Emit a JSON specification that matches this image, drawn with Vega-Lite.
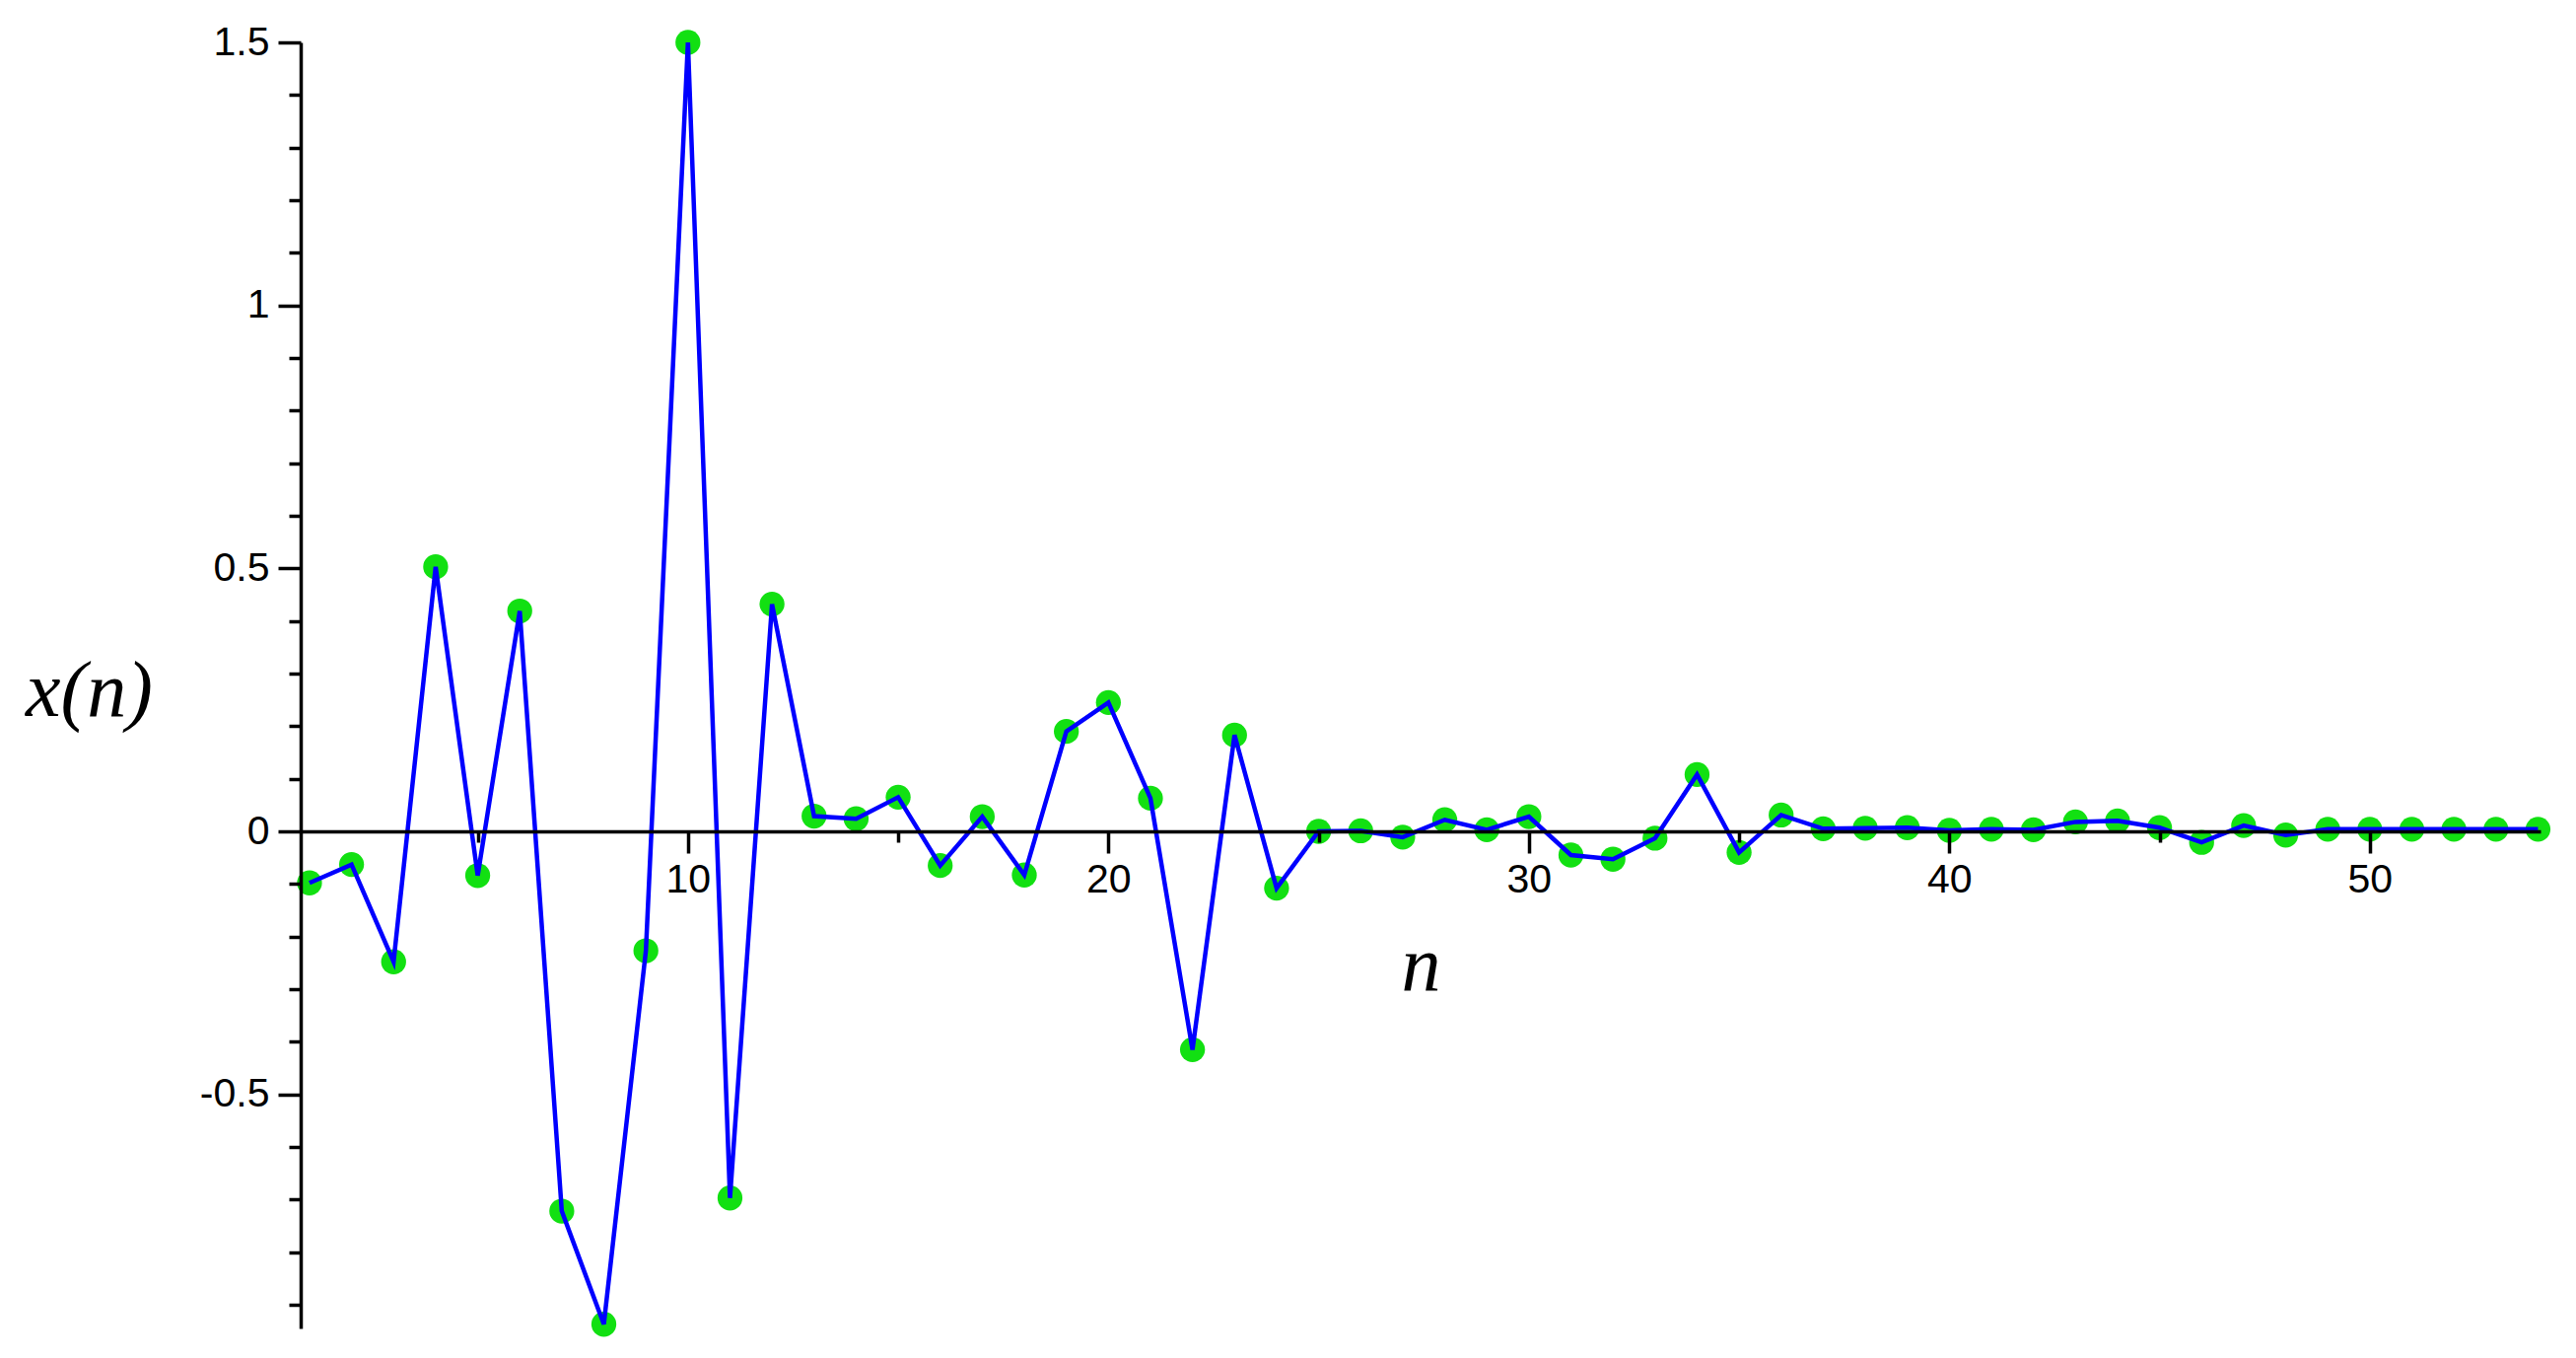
{
  "$schema": "https://vega.github.io/schema/vega-lite/v6.json",
  "width": 2272,
  "height": 1304,
  "autosize": {"type": "none"},
  "padding": {"left": 305, "top": 43, "right": 36, "bottom": 30},
  "background": "white",
  "config": {"view": {"stroke": null}},
  "data": {"values": [
    {"n": 1, "x": -0.098}, {"n": 2, "x": -0.063}, {"n": 3, "x": -0.248}, {"n": 4, "x": 0.503},
    {"n": 5, "x": -0.084}, {"n": 6, "x": 0.419}, {"n": 7, "x": -0.722}, {"n": 8, "x": -0.937},
    {"n": 9, "x": -0.227}, {"n": 10, "x": 1.5}, {"n": 11, "x": -0.697}, {"n": 12, "x": 0.432},
    {"n": 13, "x": 0.029}, {"n": 14, "x": 0.024}, {"n": 15, "x": 0.065}, {"n": 16, "x": -0.065},
    {"n": 17, "x": 0.028}, {"n": 18, "x": -0.083}, {"n": 19, "x": 0.19}, {"n": 20, "x": 0.245},
    {"n": 21, "x": 0.063}, {"n": 22, "x": -0.415}, {"n": 23, "x": 0.183}, {"n": 24, "x": -0.108},
    {"n": 25, "x": 0.0}, {"n": 26, "x": 0.001}, {"n": 27, "x": -0.011}, {"n": 28, "x": 0.022},
    {"n": 29, "x": 0.003}, {"n": 30, "x": 0.028}, {"n": 31, "x": -0.045}, {"n": 32, "x": -0.053},
    {"n": 33, "x": -0.013}, {"n": 34, "x": 0.108}, {"n": 35, "x": -0.04}, {"n": 36, "x": 0.031},
    {"n": 37, "x": 0.005}, {"n": 38, "x": 0.006}, {"n": 39, "x": 0.007}, {"n": 40, "x": 0.002},
    {"n": 41, "x": 0.004}, {"n": 42, "x": 0.003}, {"n": 43, "x": 0.018}, {"n": 44, "x": 0.02},
    {"n": 45, "x": 0.007}, {"n": 46, "x": -0.021}, {"n": 47, "x": 0.011}, {"n": 48, "x": -0.007},
    {"n": 49, "x": 0.004}, {"n": 50, "x": 0.004}, {"n": 51, "x": 0.004}, {"n": 52, "x": 0.004},
    {"n": 53, "x": 0.004}, {"n": 54, "x": 0.004}
  ]},
  "encoding": {
    "x": {
      "field": "n", "type": "quantitative",
      "scale": {"domain": [0.79, 54.06], "nice": false, "zero": false},
      "axis": {
        "orient": "bottom",
        "offset": {"expr": "scale('y', 0) - height"},
        "values": [5, 10, 15, 20, 25, 30, 35, 40, 45, 50],
        "grid": false,
        "domainColor": "black", "domainWidth": 3.5,
        "tickColor": "black", "tickWidth": 3.5,
        "tickSize": {"condition": {"test": "datum.value % 10 === 0", "value": 22}, "value": 11},
        "labelExpr": "datum.value % 10 === 0 ? datum.label : ''",
        "labelFont": "Liberation Sans Narrow, Liberation Sans",
        "labelFontSize": 41, "labelColor": "black", "labelPadding": 7,
        "labelFlush": false, "labelOverlap": false,
        "title": "n",
        "titleFont": "Liberation Serif", "titleFontStyle": "italic", "titleFontWeight": "normal",
        "titleFontSize": 80, "titleColor": "black",
        "titleX": 1136, "titleY": 160, "titleAlign": "center", "titleBaseline": "alphabetic",
        "zindex": 1
      }
    },
    "y": {
      "field": "x", "type": "quantitative",
      "scale": {"domain": [-0.945, 1.5], "nice": false, "zero": false},
      "axis": {
        "values": [-0.9, -0.8, -0.7, -0.6, -0.5, -0.4, -0.3, -0.2, -0.1, 0, 0.1, 0.2, 0.3, 0.4, 0.5, 0.6, 0.7, 0.8, 0.9, 1, 1.1, 1.2, 1.3, 1.4, 1.5],
        "grid": false,
        "domainColor": "black", "domainWidth": 3.5,
        "tickColor": "black", "tickWidth": 3.5,
        "tickSize": {"condition": {"test": "abs(datum.value*2 - round(datum.value*2)) < 0.001", "value": 23}, "value": 12},
        "labelExpr": "datum.value === 1.5 ? '1.5' : datum.value === 1 ? '1' : datum.value === 0.5 ? '0.5' : datum.value === 0 ? '0' : datum.value === -0.5 ? '-0.5' : ''",
        "labelFont": "Liberation Sans Narrow, Liberation Sans",
        "labelFontSize": 41, "labelColor": "black", "labelPadding": 9,
        "labelFlush": false, "labelOverlap": false,
        "title": "x(n)",
        "titleFont": "Liberation Serif", "titleFontStyle": "italic", "titleFontWeight": "normal",
        "titleFontSize": 80, "titleColor": "black", "titleAngle": 0,
        "titleX": -215, "titleY": 682, "titleAlign": "center", "titleBaseline": "alphabetic",
        "zindex": 1
      }
    }
  },
  "layer": [
    {"mark": {"type": "point", "filled": true, "shape": "circle", "size": 640, "color": "#12e012", "opacity": 1}},
    {"mark": {"type": "line", "color": "#0000ff", "strokeWidth": 4.5}}
  ]
}
